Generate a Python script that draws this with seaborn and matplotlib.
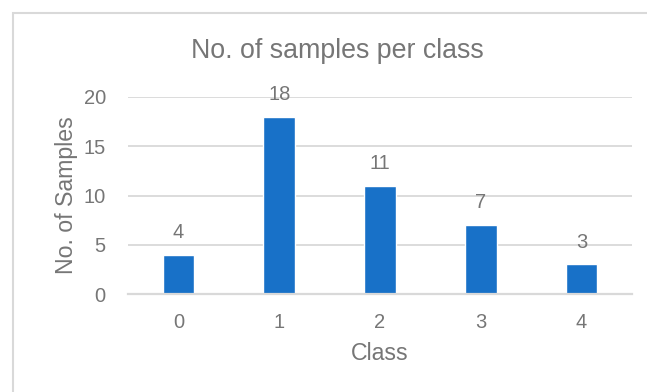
import matplotlib
matplotlib.use("Agg")
import matplotlib.pyplot as plt
from matplotlib.patches import Rectangle
import seaborn as sns
import pandas as pd

classes = ["0", "1", "2", "3", "4"]
samples = [4, 18, 11, 7, 3]
y_ticks = [0, 5, 10, 15, 20]

title = "No. of samples per class"
x_label = "Class"
y_label = "No. of Samples"

text_color = "#767676"
grid_color = "#D9D9D9"
bar_color = "#1871C8"

sns.set_theme(style="white")
plt.rcParams["font.family"] = ["Liberation Sans", "DejaVu Sans"]

df = pd.DataFrame({"Class": classes, "Samples": samples})

W, H = 647, 392
fig = plt.figure(figsize=(W / 100, H / 100), dpi=100)
ax = fig.add_axes([128 / W, 1 - 294 / H, (632 - 128) / W, (294 - 97) / H])

sns.barplot(data=df, x="Class", y="Samples", color=bar_color, width=0.315,
            saturation=1, ax=ax)

ax.set_xlim(-0.5, 4.5)
ax.set_ylim(0, 20)
ax.set_yticks(y_ticks)
ax.yaxis.grid(True, color=grid_color, linewidth=1.3)
ax.set_axisbelow(True)
for side in ["top", "right", "left"]:
    ax.spines[side].set_visible(False)
ax.spines["bottom"].set_color(grid_color)
ax.spines["bottom"].set_linewidth(1.6)
ax.tick_params(axis="both", length=0, labelsize=14.5, labelcolor=text_color)
ax.tick_params(axis="x", pad=14)
ax.tick_params(axis="y", pad=16)

ax.set_xlabel(x_label, fontsize=16.7, color=text_color, labelpad=7)
ax.set_ylabel(y_label, fontsize=16.7, color=text_color, labelpad=4)

for i, v in enumerate(samples):
    ax.annotate(str(v), (i, v), xytext=(0, 16), textcoords="offset points",
                ha="center", va="center", fontsize=14.5, color=text_color)

fig.text(337 / W, 1 - 51 / H, title, ha="center", va="center",
         fontsize=19.3, color=text_color)

fig.patches.append(Rectangle((12.5 / W, -0.1), 1.2, 1 - 12.5 / H + 0.1,
                             transform=fig.transFigure, fill=False,
                             edgecolor=grid_color, linewidth=1.5))

fig.savefig("out.png", dpi=100, facecolor="white")
